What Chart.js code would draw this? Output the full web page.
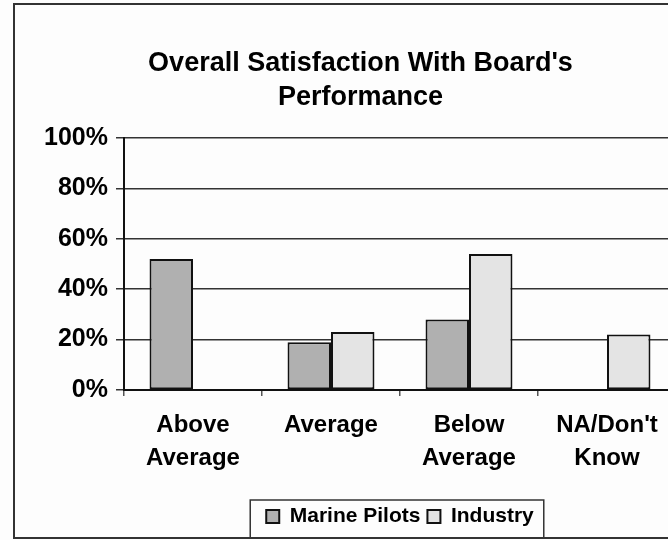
<!DOCTYPE html>
<html>
<head>
<meta charset="utf-8">
<script src="https://cdn.jsdelivr.net/npm/chart.js@4"></script>
<style>
  html, body { margin:0; padding:0; background:#fdfdfd; overflow:hidden; width:668px; height:540px; }
  .frame { position:absolute; left:13px; top:3px; width:718px; height:532px; border:2px solid #333; background:#fdfdfd; }
</style>
</head>
<body>
<div class="frame"><canvas id="chart" width="718" height="532"></canvas></div>
<script>
const categories = [['Above', 'Average'], 'Average', ['Below', 'Average'], ["NA/Don't", 'Know']];
const marinePilots = [52, 19, 28, 0];
const industry = [0, 23, 54, 22];
const yTicks = [0, 20, 40, 60, 80, 100];

const font = 'Liberation Sans, Arial, sans-serif';

// box round the legend, like the old spreadsheet chart
const legendFrame = {
  id: 'legendFrame',
  afterDraw(chart) {
    const lg = chart.legend;
    if (!lg || !lg.legendHitBoxes.length) return;
    const hb = lg.legendHitBoxes;
    const left = Math.min(...hb.map(b => b.left)) - 16;
    const right = Math.max(...hb.map(b => b.left + b.width)) + 10;
    const ctx = chart.ctx;
    ctx.save();
    ctx.strokeStyle = '#333';
    ctx.lineWidth = 1.5;
    ctx.strokeRect(left, lg.top + 1, right - left, chart.height - lg.top);
    ctx.restore();
  }
};

new Chart(document.getElementById('chart'), {
  type: 'bar',
  data: {
    labels: categories,
    datasets: [
      { label: 'Marine Pilots', data: marinePilots, backgroundColor: '#b0b0b0', borderColor: '#111', borderWidth: 2, borderSkipped: false },
      { label: 'Industry', data: industry, backgroundColor: '#e4e4e4', borderColor: '#111', borderWidth: 2, borderSkipped: false }
    ]
  },
  options: {
    responsive: false,
    animation: false,
    layout: { padding: { left: 30, right: 57, top: 0, bottom: 0 } },
    datasets: { bar: { categoryPercentage: 0.63, barPercentage: 1 } },
    plugins: {
      title: {
        display: true,
        text: ["Overall Satisfaction With Board's", 'Performance'],
        color: '#000',
        font: { family: font, size: 27, weight: 'bold', lineHeight: 1.26 },
        padding: { top: 42, bottom: 23 }
      },
      legend: {
        position: 'bottom',
        fullSize: false,
        labels: {
          color: '#000',
          font: { family: font, size: 21, weight: 'bold' },
          boxWidth: 13, boxHeight: 13, padding: 7,
          generateLabels(chart) {
            return chart.data.datasets.map((ds, i) => ({
              text: ds.label, fillStyle: ds.backgroundColor, strokeStyle: '#111',
              lineWidth: 2, datasetIndex: i, fontColor: '#000'
            }));
          }
        }
      },
      tooltip: { enabled: false }
    },
    scales: {
      x: {
        grid: { drawOnChartArea: false, offset: true, tickLength: 6, color: '#555', lineWidth: 1.5 },
        border: { color: '#111', width: 2 },
        ticks: { color: '#000', padding: 13, maxRotation: 0, font: { family: font, size: 24, weight: 'bold', lineHeight: 1.375 } },
        afterFit(scale) { scale.height = 109; }
      },
      y: {
        min: 0, max: 100,
        afterBuildTicks(scale) { scale.ticks = yTicks.map(v => ({ value: v })); },
        grid: { color: '#333', lineWidth: 1.5, tickLength: 8 },
        border: { color: '#111', width: 2 },
        ticks: { color: '#000', padding: 8, callback: v => v + '%', font: { family: font, size: 25, weight: 'bold' } },
        afterFit(scale) { scale.width = 79; }
      }
    }
  },
  plugins: [legendFrame]
});
</script>
</body>
</html>
